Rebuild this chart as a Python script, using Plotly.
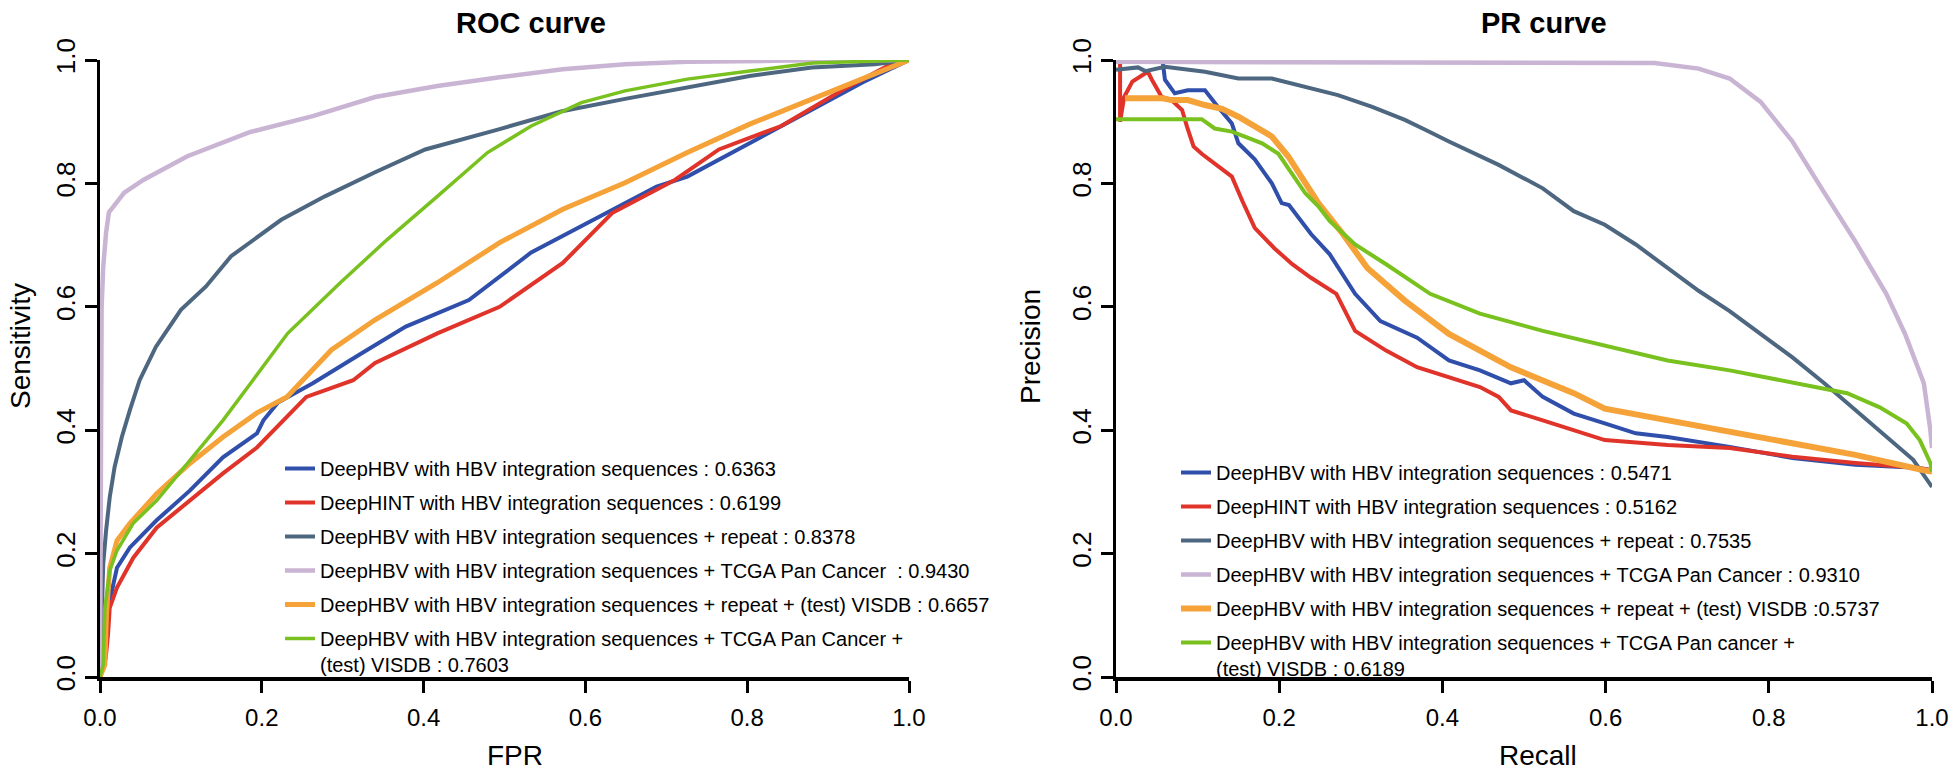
import plotly.graph_objects as go

FONT = "Liberation Sans, Arial, sans-serif"

# ---------------- ROC data (FPR, Sensitivity) ----------------
roc_names = [
    "DeepHBV with HBV integration sequences : 0.6363",
    "DeepHINT with HBV integration sequences : 0.6199",
    "DeepHBV with HBV integration sequences + repeat : 0.8378",
    "DeepHBV with HBV integration sequences + TCGA Pan Cancer  : 0.9430",
    "DeepHBV with HBV integration sequences + repeat + (test) VISDB : 0.6657",
    "DeepHBV with HBV integration sequences + TCGA Pan Cancer +<br>(test) VISDB : 0.7603",
]

roc_blue_fpr = [0, 0.004, 0.008, 0.015, 0.021, 0.037, 0.07, 0.111, 0.152, 0.194, 0.202, 0.22, 0.263, 0.324,
                0.378, 0.456, 0.533, 0.61, 0.688, 0.726, 0.803, 0.881, 0.943, 1.0]
roc_blue_tpr = [0, 0.04, 0.1, 0.145, 0.177, 0.21, 0.254, 0.302, 0.356, 0.395, 0.416, 0.445, 0.476, 0.525,
                0.568, 0.611, 0.688, 0.741, 0.795, 0.811, 0.866, 0.92, 0.964, 1.0]

roc_red_fpr = [0, 0.007, 0.01, 0.012, 0.021, 0.041, 0.07, 0.111, 0.152, 0.194, 0.235, 0.255, 0.313, 0.34,
               0.417, 0.494, 0.572, 0.633, 0.711, 0.765, 0.842, 0.92, 0.973, 1.0]
roc_red_tpr = [0, 0.03, 0.07, 0.112, 0.145, 0.193, 0.242, 0.286, 0.33, 0.372, 0.428, 0.454, 0.481, 0.509,
               0.557, 0.6, 0.671, 0.752, 0.806, 0.855, 0.893, 0.953, 0.99, 1.0]

roc_slate_fpr = [0, 0.002, 0.004, 0.0075, 0.012, 0.018, 0.027, 0.037, 0.049, 0.069, 0.1, 0.131, 0.162, 0.224,
                 0.278, 0.34, 0.402, 0.494, 0.571, 0.649, 0.726, 0.803, 0.88, 0.958, 1.0]
roc_slate_tpr = [0, 0.1, 0.183, 0.237, 0.291, 0.34, 0.389, 0.433, 0.481, 0.535, 0.595, 0.633, 0.682, 0.741,
                 0.779, 0.818, 0.855, 0.888, 0.917, 0.937, 0.956, 0.974, 0.988, 0.993, 1.0]

roc_lav_fpr = [0, 0.002, 0.004, 0.0075, 0.011, 0.03, 0.054, 0.108, 0.185, 0.263, 0.34, 0.417, 0.494, 0.572,
               0.649, 0.726, 0.85, 1.0]
roc_lav_tpr = [0, 0.6, 0.665, 0.72, 0.753, 0.785, 0.806, 0.844, 0.883, 0.909, 0.94, 0.958, 0.972, 0.985,
               0.993, 0.997, 0.999, 1.0]

roc_orange_fpr = [0, 0.006, 0.008, 0.012, 0.021, 0.037, 0.07, 0.111, 0.152, 0.194, 0.231, 0.286, 0.34, 0.417,
                  0.494, 0.572, 0.649, 0.726, 0.803, 0.881, 0.95, 1.0]
roc_orange_tpr = [0, 0.02, 0.102, 0.177, 0.221, 0.249, 0.297, 0.346, 0.389, 0.428, 0.454, 0.53, 0.579, 0.639,
                  0.704, 0.758, 0.801, 0.85, 0.896, 0.937, 0.974, 1.0]

roc_green_fpr = [0, 0.004, 0.006, 0.012, 0.021, 0.041, 0.07, 0.108, 0.152, 0.189, 0.232, 0.297, 0.355, 0.417,
                 0.479, 0.533, 0.595, 0.649, 0.726, 0.803, 0.881, 1.0]
roc_green_tpr = [0, 0.02, 0.112, 0.172, 0.205, 0.249, 0.286, 0.346, 0.416, 0.481, 0.557, 0.639, 0.709, 0.779,
                 0.85, 0.893, 0.931, 0.95, 0.969, 0.982, 0.995, 1.0]

# ---------------- PR data (Recall, Precision) ----------------
pr_names = [
    "DeepHBV with HBV integration sequences : 0.5471",
    "DeepHINT with HBV integration sequences : 0.5162",
    "DeepHBV with HBV integration sequences + repeat : 0.7535",
    "DeepHBV with HBV integration sequences + TCGA Pan Cancer : 0.9310",
    "DeepHBV with HBV integration sequences + repeat + (test) VISDB :0.5737",
    "DeepHBV with HBV integration sequences + TCGA Pan cancer +<br>(test) VISDB : 0.6189",
]

pr_blue_rec = [0, 0.057, 0.06, 0.072, 0.088, 0.109, 0.125, 0.142, 0.15, 0.17, 0.191, 0.203, 0.212, 0.239, 0.262,
               0.293, 0.324, 0.369, 0.408, 0.446, 0.484, 0.5, 0.523, 0.561, 0.599, 0.637, 0.676, 0.714, 0.752,
               0.829, 0.906, 0.982, 1.0]
pr_blue_prec = [1.0, 1.0, 0.968, 0.946, 0.951, 0.951, 0.924, 0.897, 0.865, 0.839, 0.8, 0.768, 0.765, 0.718, 0.685,
                0.621, 0.577, 0.55, 0.513, 0.497, 0.476, 0.481, 0.454, 0.427, 0.411, 0.395, 0.389, 0.381, 0.373,
                0.355, 0.344, 0.339, 0.335]

pr_red_rec = [0, 0.005, 0.005, 0.01, 0.02, 0.039, 0.044, 0.056, 0.068, 0.081, 0.087, 0.095, 0.105, 0.125, 0.142,
              0.155, 0.17, 0.194, 0.216, 0.239, 0.27, 0.293, 0.331, 0.369, 0.408, 0.446, 0.469, 0.484, 0.523,
              0.561, 0.599, 0.676, 0.752, 0.829, 0.906, 0.982, 1.0]
pr_red_prec = [1.0, 1.0, 0.9, 0.94, 0.965, 0.981, 0.968, 0.94, 0.935, 0.919, 0.892, 0.86, 0.848, 0.827, 0.811,
               0.771, 0.728, 0.695, 0.669, 0.647, 0.621, 0.561, 0.529, 0.502, 0.486, 0.47, 0.454, 0.432, 0.416,
               0.4, 0.384, 0.376, 0.371, 0.357, 0.347, 0.339, 0.335]

pr_slate_rec = [0, 0.027, 0.036, 0.06, 0.109, 0.15, 0.191, 0.232, 0.272, 0.314, 0.354, 0.379, 0.408, 0.469,
                0.523, 0.561, 0.599, 0.637, 0.676, 0.714, 0.752, 0.79, 0.829, 0.868, 0.896, 0.936, 0.977, 1.0]
pr_slate_prec = [0.984, 0.988, 0.982, 0.989, 0.981, 0.97, 0.97, 0.956, 0.943, 0.924, 0.903, 0.887, 0.868, 0.83,
                 0.792, 0.755, 0.733, 0.701, 0.663, 0.626, 0.593, 0.556, 0.518, 0.476, 0.444, 0.4, 0.352, 0.308]

pr_lav_rec = [0, 0.3, 0.66, 0.714, 0.752, 0.79, 0.829, 0.867, 0.906, 0.944, 0.967, 0.99, 0.995, 0.998, 1.0]
pr_lav_prec = [0.997, 0.996, 0.995, 0.986, 0.97, 0.932, 0.868, 0.787, 0.706, 0.621, 0.556, 0.476, 0.43, 0.4, 0.371]

pr_orange_rec = [0.011, 0.057, 0.068, 0.088, 0.109, 0.13, 0.15, 0.17, 0.191, 0.211, 0.232, 0.248, 0.278, 0.308,
                 0.354, 0.408, 0.484, 0.561, 0.599, 0.676, 0.752, 0.829, 0.906, 0.99, 1.0]
pr_orange_prec = [0.938, 0.938, 0.935, 0.935, 0.927, 0.921, 0.908, 0.892, 0.876, 0.844, 0.8, 0.768, 0.718, 0.663,
                  0.61, 0.556, 0.502, 0.46, 0.435, 0.416, 0.397, 0.379, 0.36, 0.335, 0.333]

pr_green_rec = [0, 0.105, 0.121, 0.142, 0.158, 0.179, 0.199, 0.216, 0.232, 0.248, 0.262, 0.293, 0.331, 0.385,
                0.446, 0.523, 0.599, 0.676, 0.752, 0.829, 0.896, 0.936, 0.969, 0.985, 0.998, 1.0]
pr_green_prec = [0.904, 0.904, 0.889, 0.884, 0.876, 0.865, 0.848, 0.816, 0.784, 0.763, 0.739, 0.701, 0.669, 0.621,
                 0.589, 0.561, 0.537, 0.513, 0.497, 0.478, 0.46, 0.437, 0.411, 0.384, 0.347, 0.333]

tick_vals = [0, 0.2, 0.4, 0.6, 0.8, 1.0]
tick_text = ["0.0", "0.2", "0.4", "0.6", "0.8", "1.0"]

colors = ["#2F4FAA", "#E0332A", "#4E6780", "#C9B4D4", "#F5A238", "#78C11E"]
roc_widths = [4, 4, 4, 4.5, 5, 3.5]
pr_widths = [4, 4, 4, 4.5, 6, 4]

roc_series = [(roc_blue_fpr, roc_blue_tpr), (roc_red_fpr, roc_red_tpr), (roc_slate_fpr, roc_slate_tpr),
              (roc_lav_fpr, roc_lav_tpr), (roc_orange_fpr, roc_orange_tpr), (roc_green_fpr, roc_green_tpr)]
pr_series = [(pr_blue_rec, pr_blue_prec), (pr_red_rec, pr_red_prec), (pr_slate_rec, pr_slate_prec),
             (pr_lav_rec, pr_lav_prec), (pr_orange_rec, pr_orange_prec), (pr_green_rec, pr_green_prec)]

fig = go.Figure()
for i, (xs, ys) in enumerate(roc_series):
    fig.add_trace(go.Scatter(x=xs, y=ys, mode="lines", name=roc_names[i],
                             line=dict(color=colors[i], width=roc_widths[i]),
                             xaxis="x", yaxis="y", legend="legend", legendgroup="r%d" % i))
for i, (xs, ys) in enumerate(pr_series):
    fig.add_trace(go.Scatter(x=xs, y=ys, mode="lines", name=pr_names[i],
                             line=dict(color=colors[i], width=pr_widths[i]),
                             xaxis="x2", yaxis="y2", legend="legend2", legendgroup="p%d" % i))

W, H = 1960, 776
def px_x(p): return p / W          # page pixel -> paper fraction
def px_y(p): return 1 - p / H

axis_common = dict(range=[0, 1], tickvals=tick_vals, ticktext=tick_text, showgrid=False, zeroline=False,
                   showline=True, linecolor="black", ticks="outside", ticklen=12, tickwidth=3,
                   tickcolor="black", automargin=False)
xfont = dict(family=FONT, size=24, color="black")
yfont = dict(family=FONT, size=26, color="black")
legfont = dict(family=FONT, size=20, color="black")

fig.update_layout(
    width=W, height=H, margin=dict(l=0, r=0, t=0, b=0, pad=0, autoexpand=False),
    plot_bgcolor="white", paper_bgcolor="white",
    font=dict(family=FONT, color="black"),
    xaxis=dict(domain=[px_x(100), px_x(909)], anchor="y", linewidth=4, tickfont=xfont,
               ticklabelstandoff=4, **axis_common),
    yaxis=dict(domain=[px_y(677), px_y(60)], anchor="x", linewidth=3, tickfont=yfont,
               tickangle=-90, **axis_common),
    xaxis2=dict(domain=[px_x(1116), px_x(1932)], anchor="y2", linewidth=4, tickfont=xfont,
                ticklabelstandoff=4, **axis_common),
    yaxis2=dict(domain=[px_y(677), px_y(60)], anchor="x2", linewidth=3, tickfont=yfont,
                tickangle=-90, **axis_common),
    legend=dict(x=px_x(280), y=px_y(449), xanchor="left", yanchor="top", bgcolor="rgba(0,0,0,0)",
                font=legfont, tracegroupgap=5, valign="top"),
    legend2=dict(x=px_x(1176), y=px_y(453), xanchor="left", yanchor="top", bgcolor="rgba(0,0,0,0)",
                 font=legfont, tracegroupgap=5, valign="top"),
)

ann = [
    dict(text="<b>ROC curve</b>", x=px_x(531), y=px_y(23), size=29, angle=0),
    dict(text="<b>PR curve</b>", x=px_x(1544), y=px_y(23), size=29, angle=0),
    dict(text="FPR", x=px_x(515), y=px_y(755), size=28, angle=0),
    dict(text="Recall", x=px_x(1538), y=px_y(755), size=28, angle=0),
    dict(text="Sensitivity", x=px_x(20), y=px_y(346), size=28, angle=-90),
    dict(text="Precision", x=px_x(1030), y=px_y(347), size=28, angle=-90),
]
for a in ann:
    fig.add_annotation(text=a["text"], x=a["x"], y=a["y"], xref="paper", yref="paper",
                       xanchor="center", yanchor="middle", showarrow=False, textangle=a["angle"],
                       font=dict(family=FONT, size=a["size"], color="black"))

# remove the default 8px page margin so the figure fills the window exactly
fig.write_html("out.html", config={"displayModeBar": False},
               post_script="document.body.style.margin='0px';")
